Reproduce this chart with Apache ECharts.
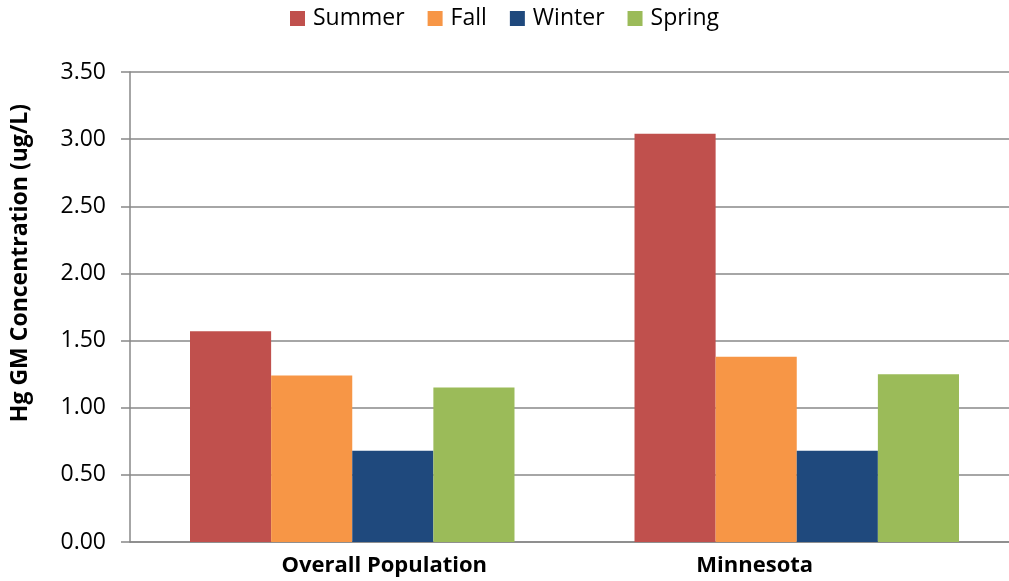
<!DOCTYPE html>
<html>
<head>
<meta charset="utf-8">
<title>Hg GM Concentration by season</title>
<script src="https://cdn.jsdelivr.net/npm/echarts@6/dist/echarts.min.js"></script>
<style>
    html, body { margin: 0; padding: 0; background: #fff; }
    #chart { width: 1009px; height: 581px; }
</style>
</head>
<body>
<div id="chart"></div>
<script>
    // data
    var categories = ['Overall Population', 'Minnesota'];
    var seasons = ['Summer', 'Fall', 'Winter', 'Spring'];
    var summer = [1.57, 3.04];
    var fall = [1.24, 1.38];
    var winter = [0.68, 0.68];
    var spring = [1.15, 1.25];
    var colors = ['#c0504d', '#f79646', '#1f497d', '#9bbb59'];

    var font = 'Open Sans';
    var values = [summer, fall, winter, spring];

    var series = [];
    for (var i = 0; i < seasons.length; i++) {
        series.push({
            name: seasons[i],
            type: 'bar',
            data: values[i],
            barGap: 0,
            barCategoryGap: '27%',
            itemStyle: { color: colors[i] }
        });
    }

    var labelStyle = { fontSize: 22, fontWeight: 'bold', color: '#000', fontFamily: font };

    var chart = echarts.init(document.getElementById('chart'));
    chart.setOption({
        animation: false,
        color: colors,
        textStyle: { fontFamily: font },
        legend: {
            top: 2,
            left: 'center',
            itemWidth: 15,
            itemHeight: 15,
            itemGap: 23,
            icon: 'rect',
            textStyle: { fontSize: 23, color: '#000', fontFamily: font, padding: [0, 0, 0, 3] },
            data: seasons
        },
        // plot runs a little past the right edge, as in the reference
        grid: { left: 130, width: 889, top: 72, bottom: 39, outerBoundsMode: 'none', containLabel: false },
        xAxis: {
            type: 'category',
            data: categories,
            axisLine: { lineStyle: { color: '#888', width: 1.5 } },
            axisTick: { show: false },
            axisLabel: {
                margin: 13,
                // the reference labels sit a bit off the bar groups
                formatter: function (v, idx) { return '{c' + idx + '|' + v + '}'; },
                rich: {
                    c0: Object.assign({ padding: [0, 0, 0, 64] }, labelStyle),
                    c1: Object.assign({ padding: [0, 84, 0, 0] }, labelStyle)
                }
            }
        },
        yAxis: {
            type: 'value',
            min: 0,
            max: 3.5,
            interval: 0.5,
            name: 'Hg GM Concentration (ug/L)',
            nameLocation: 'middle',
            nameGap: 98,
            nameTextStyle: {
                fontSize: 23, fontWeight: 'bold', color: '#000', fontFamily: font,
                padding: [0, 0, 0, 88]
            },
            axisLine: { show: true, lineStyle: { color: '#888', width: 1.5 } },
            axisTick: { show: true, length: 9, lineStyle: { color: '#888', width: 1.5 } },
            splitLine: { lineStyle: { color: '#888', width: 1.5 } },
            axisLabel: {
                fontSize: 23, color: '#000', margin: 24, fontFamily: font,
                formatter: function (v) { return v.toFixed(2); }
            }
        },
        series: series
    });
</script>
</body>
</html>
